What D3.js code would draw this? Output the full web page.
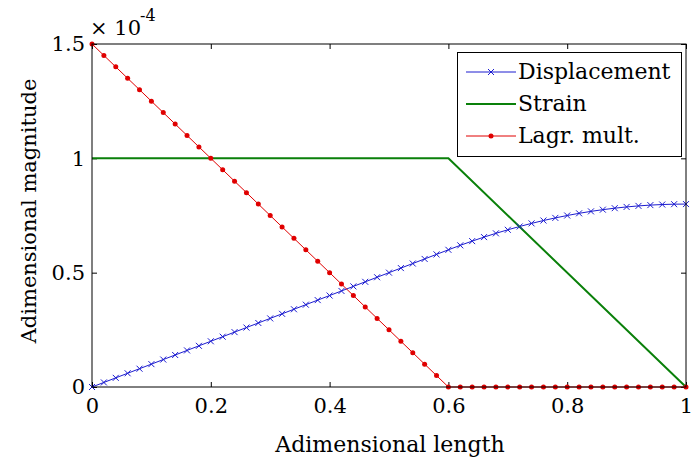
<!DOCTYPE html>
<html>
<head>
<meta charset="utf-8">
<script src="https://cdn.jsdelivr.net/npm/d3@7"></script>
<style>
  body { margin: 0; background: #fff; }
  svg { display: block; }
  text { font-family: "DejaVu Serif", serif; fill: #000; }
</style>
</head>
<body>
<div id="chart"></div>
<script>
// values in units of 1e-4, sampled every 0.02 of the length
var xs = d3.range(0, 51).map(function (i) { return i / 50; });
var displacement = [
  0, 0.02, 0.04, 0.06, 0.08, 0.10, 0.12, 0.14, 0.16, 0.18,
  0.20, 0.22, 0.24, 0.26, 0.28, 0.30, 0.32, 0.34, 0.36, 0.38,
  0.40, 0.42, 0.44, 0.46, 0.48, 0.50, 0.52, 0.54, 0.56, 0.58,
  0.60, 0.6195, 0.638, 0.6555, 0.672, 0.6875, 0.702, 0.7155, 0.728, 0.7395,
  0.75, 0.7595, 0.768, 0.7755, 0.782, 0.7875, 0.792, 0.7955, 0.798, 0.7995,
  0.80
];
var lagrange = [
  1.50, 1.45, 1.40, 1.35, 1.30, 1.25, 1.20, 1.15, 1.10, 1.05,
  1.00, 0.95, 0.90, 0.85, 0.80, 0.75, 0.70, 0.65, 0.60, 0.55,
  0.50, 0.45, 0.40, 0.35, 0.30, 0.25, 0.20, 0.15, 0.10, 0.05,
  0, 0, 0, 0, 0, 0, 0, 0, 0, 0,
  0, 0, 0, 0, 0, 0, 0, 0, 0, 0,
  0
];
var strainX = [0, 0.6, 1];
var strain = [1, 1, 0];
var xTicks = [0, 0.2, 0.4, 0.6, 0.8, 1];
var yTicks = [0, 0.5, 1, 1.5];
var legendLabels = ["Displacement", "Strain", "Lagr. mult."];

var width = 692, height = 465;
var pLeft = 92, pRight = 686, pTop = 44, pBottom = 387;
var blue = "#1c1cd0", green = "#0a800a", red = "#e00000";

var svg = d3.select("#chart").append("svg")
    .attr("width", width)
    .attr("height", height);

var x = d3.scaleLinear().domain([0, 1]).range([pLeft, pRight]);
var y = d3.scaleLinear().domain([0, 1.5]).range([pBottom, pTop]);

var line = d3.line()
    .x(function (d) { return x(d[0]); })
    .y(function (d) { return y(d[1]); });

// axes, ticks pointing inward
var fmt = function (d) { return String(d); };
var gx = svg.append("g").attr("transform", "translate(0," + pBottom + ")")
    .call(d3.axisBottom(x).tickValues(xTicks).tickFormat(fmt).tickSize(-5).tickPadding(11));
var gy = svg.append("g").attr("transform", "translate(" + pLeft + ",0)")
    .call(d3.axisLeft(y).tickValues(yTicks).tickFormat(fmt).tickSize(-5).tickPadding(7));
var gt = svg.append("g").attr("transform", "translate(0," + pTop + ")")
    .call(d3.axisTop(x).tickValues(xTicks).tickFormat("").tickSize(-5));
var gr = svg.append("g").attr("transform", "translate(" + pRight + ",0)")
    .call(d3.axisRight(y).tickValues(yTicks).tickFormat("").tickSize(-5));
[gx, gy, gt, gr].forEach(function (g) {
  g.select(".domain").remove();
  g.attr("font-family", null);
  g.selectAll(".tick line").attr("stroke", "#000");
  g.selectAll(".tick text").style("font-size", "21px").attr("fill", "#000");
});

// lines
svg.append("path")
    .datum(xs.map(function (v, i) { return [v, displacement[i]]; }))
    .attr("d", line).attr("fill", "none").attr("stroke", blue).attr("stroke-width", 1);
svg.append("path")
    .datum(strainX.map(function (v, i) { return [v, strain[i]]; }))
    .attr("d", line).attr("fill", "none").attr("stroke", green).attr("stroke-width", 2);
svg.append("path")
    .datum(xs.map(function (v, i) { return [v, lagrange[i]]; }))
    .attr("d", line).attr("fill", "none").attr("stroke", red).attr("stroke-width", 1);

// markers
var xMark = "M-3,-3L3,3M-3,3L3,-3";
svg.append("g").selectAll("path")
    .data(xs.map(function (v, i) { return [v, displacement[i]]; }))
    .enter().append("path")
    .attr("d", xMark)
    .attr("transform", function (d) { return "translate(" + x(d[0]) + "," + y(d[1]) + ")"; })
    .attr("stroke", blue).attr("stroke-width", 1);
svg.append("g").selectAll("circle")
    .data(xs.map(function (v, i) { return [v, lagrange[i]]; }))
    .enter().append("circle")
    .attr("cx", function (d) { return x(d[0]); })
    .attr("cy", function (d) { return y(d[1]); })
    .attr("r", 2.5).attr("fill", red);

// box
svg.append("rect")
    .attr("x", pLeft).attr("y", pTop)
    .attr("width", pRight - pLeft).attr("height", pBottom - pTop)
    .attr("fill", "none").attr("stroke", "#000").attr("stroke-width", 1);

// exponent
svg.append("text").attr("x", 90).attr("y", 35).style("font-size", "21px").text("\u00d7 10");
svg.append("text").attr("x", 140).attr("y", 21).style("font-size", "16px").text("-4");

// axis titles
svg.append("text").attr("x", 390).attr("y", 452)
    .attr("text-anchor", "middle").style("font-size", "22px").text("Adimensional length");
svg.append("text").attr("transform", "translate(36,211) rotate(-90)")
    .attr("text-anchor", "middle").style("font-size", "21px").text("Adimensional magnitude");

// legend
var lg = svg.append("g");
lg.append("rect").attr("x", 457.5).attr("y", 52.5).attr("width", 224).attr("height", 104)
    .attr("fill", "#fff").attr("stroke", "#000").attr("stroke-width", 1);
var colors = [blue, green, red];
legendLabels.forEach(function (lab, i) {
  var cy = 72 + i * 32;
  lg.append("line").attr("x1", 466).attr("x2", 516).attr("y1", cy).attr("y2", cy)
      .attr("stroke", colors[i]).attr("stroke-width", i === 1 ? 2 : 1);
  if (i === 0) {
    lg.append("path").attr("d", xMark)
        .attr("transform", "translate(491," + cy + ")").attr("stroke", blue);
  }
  if (i === 2) {
    lg.append("circle").attr("cx", 491).attr("cy", cy).attr("r", 2.5).attr("fill", red);
  }
  lg.append("text").attr("x", 518).attr("y", cy + 7).style("font-size", "22px").text(lab);
});
</script>
</body>
</html>
